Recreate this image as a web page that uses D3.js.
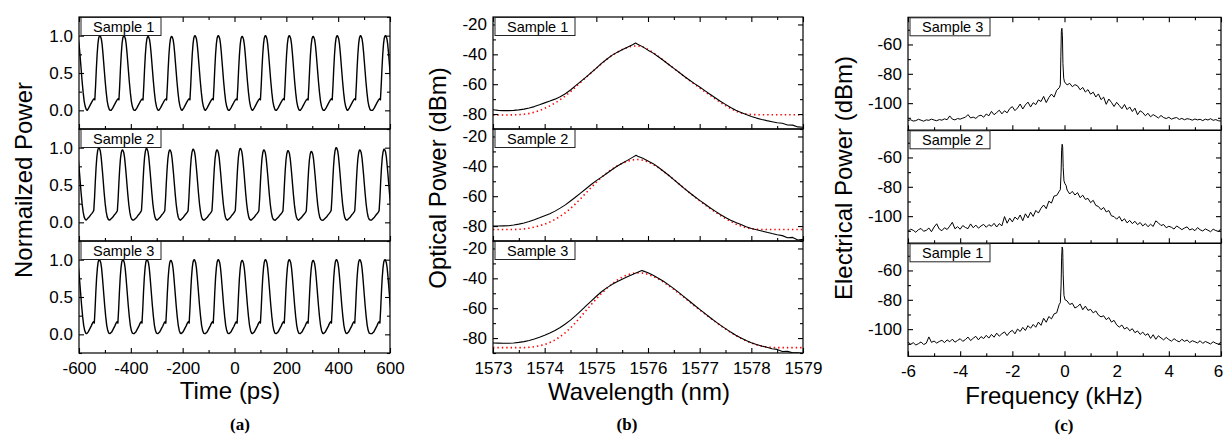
<!DOCTYPE html>
<html>
<head>
<meta charset="utf-8">
<script src="https://cdn.jsdelivr.net/npm/d3@7"></script>
<style>
  body { margin: 0; background: #fff; }
  text { font-family: "Liberation Sans", Arial, sans-serif; }
</style>
</head>
<body>
<svg id="fig" width="1223" height="436"></svg>
<script>
// ---------- (a) pulse trains ----------
// pulse shape: offsets from each peak (ps) and normalized value per sample
const pulseOffsets = [-50, -44, -38, -32, -27, -23, -20, -17, -14, -11, -8, -5, -2, 0, 2, 5, 8, 11, 14, 17, 20, 24, 28, 32, 36, 40];
const pulse1 = [0.0, 0.03, 0.07, 0.11, 0.14, 0.155, 0.14, 0.33, 0.56, 0.75, 0.89, 0.97, 0.998, 1.0, 0.99, 0.96, 0.89, 0.78, 0.65, 0.52, 0.39, 0.24, 0.12, 0.05, 0.01, 0.0];
const pulse2 = [0.03, 0.05, 0.07, 0.10, 0.12, 0.14, 0.16, 0.33, 0.55, 0.74, 0.88, 0.96, 0.997, 1.0, 0.99, 0.96, 0.89, 0.78, 0.66, 0.53, 0.40, 0.25, 0.14, 0.07, 0.04, 0.03];
const pulse3 = [0.01, 0.03, 0.07, 0.11, 0.15, 0.17, 0.15, 0.34, 0.57, 0.76, 0.89, 0.97, 0.998, 1.0, 0.99, 0.96, 0.89, 0.78, 0.65, 0.52, 0.39, 0.24, 0.12, 0.05, 0.015, 0.01];

// peak times (ps) and heights
const peaks1 = [-608, -519, -426, -333, -242, -152, -62, 30, 120, 212, 304, 397, 487, 583];
const heights1 = [1.0, 1.0, 1.0, 0.99, 0.99, 1.0, 1.0, 0.99, 1.0, 1.0, 0.99, 1.0, 1.0, 1.0];
const peaks2 = [-612, -523, -432, -339, -249, -159, -67, 23, 114, 207, 297, 393, 484, 578];
const heights2 = [1.0, 1.0, 0.97, 0.99, 0.97, 0.98, 0.97, 0.99, 0.97, 0.96, 0.95, 1.0, 0.97, 0.98];
const peaks3 = [-610, -521, -430, -337, -245, -155, -62, 30, 120, 212, 304, 394, 484, 581];
const heights3 = [1.0, 1.0, 1.0, 1.0, 0.99, 1.0, 1.0, 0.99, 1.0, 1.0, 0.99, 1.0, 1.0, 1.0];

// ---------- (b) optical spectra ----------
const wlGrid = d3.range(61).map(i => 1573 + i / 10);
const optBlack1 = [-77.1, -77.5, -77.7, -77.7, -77.5, -77.2, -76.7, -75.9, -75.0, -73.8,
  -72.5, -71.3, -70.0, -68.4, -66.4, -63.9, -61.0, -58.1, -55.3, -52.2,
  -49.2, -46.1, -43.3, -40.7, -38.7, -37.0, -35.2, -33.6, -33.2, -35.0,
  -37.2, -39.2, -41.6, -44.1, -46.8, -49.4, -52.0, -54.7, -57.2, -59.6,
  -61.9, -64.3, -66.7, -69.1, -71.4, -73.5, -75.6, -77.5, -78.9, -80.3,
  -81.6, -82.7, -83.6, -84.4, -85.1, -85.8, -86.2, -87.3, -87.4, -88.6,
  -88.8];
const optFit1 = [-80.6, -80.6, -80.6, -80.6, -80.5, -80.4, -80.1, -79.6, -78.8, -77.7,
  -76.2, -74.5, -72.6, -70.4, -67.9, -65.0, -61.8, -58.6, -55.5, -52.4,
  -49.3, -46.3, -43.4, -40.8, -38.6, -36.8, -35.4, -34.5, -34.3, -35.1,
  -36.7, -38.8, -41.3, -44.0, -46.7, -49.4, -52.1, -54.8, -57.4, -60.0,
  -62.5, -65.0, -67.4, -69.8, -72.1, -74.3, -76.3, -78.0, -79.3, -80.0,
  -80.3, -80.4, -80.5, -80.5, -80.5, -80.5, -80.5, -80.5, -80.5, -80.5,
  -80.5];
const optBlack2 = [-80.0, -80.0, -79.9, -79.8, -79.3, -78.7, -78.0, -77.0, -75.8, -74.5,
  -73.1, -71.8, -70.0, -68.0, -65.8, -63.2, -60.5, -57.8, -55.0, -52.2,
  -49.6, -47.2, -44.8, -42.3, -40.0, -37.9, -36.0, -34.0, -33.2, -34.6,
  -36.4, -38.2, -40.6, -43.3, -46.0, -48.9, -51.8, -54.8, -57.5, -60.2,
  -62.8, -65.2, -67.7, -70.0, -72.3, -74.3, -76.1, -77.6, -79.0, -80.4,
  -81.6, -82.5, -83.3, -84.1, -85.0, -85.8, -86.4, -87.8, -87.6, -89.3,
  -88.9];
const optFit2 = [-82.3, -82.3, -82.3, -82.3, -82.3, -82.2, -81.9, -81.4, -80.7, -79.8,
  -78.7, -77.3, -75.6, -73.5, -71.1, -68.3, -65.0, -61.5, -57.8, -54.2,
  -50.6, -47.4, -44.5, -42.0, -39.8, -38.0, -36.6, -35.7, -35.4, -35.9,
  -37.0, -38.7, -40.9, -43.4, -46.1, -48.9, -51.8, -54.7, -57.6, -60.4,
  -63.1, -65.7, -68.2, -70.6, -72.9, -75.0, -76.9, -78.6, -80.0, -81.1,
  -81.8, -82.1, -82.3, -82.3, -82.3, -82.3, -82.3, -82.3, -82.3, -82.3,
  -82.3];
const optBlack3 = [-83.3, -83.4, -83.5, -83.5, -83.3, -82.9, -82.4, -81.6, -80.6, -79.4,
  -78.1, -76.6, -74.9, -72.9, -70.6, -68.0, -65.0, -61.8, -58.5, -55.2,
  -52.0, -49.0, -46.4, -44.2, -42.3, -40.6, -39.0, -37.4, -36.0, -35.0,
  -36.3, -38.0, -39.9, -42.0, -44.4, -46.9, -49.6, -52.4, -55.2, -58.0,
  -60.8, -63.5, -66.2, -68.8, -71.3, -73.7, -76.0, -78.1, -80.0, -81.7,
  -83.1, -84.3, -85.3, -86.2, -87.2, -87.6, -89.0, -88.9, -89.9, -89.8,
  -90.4];
const optFit3 = [-86.4, -86.4, -86.4, -86.4, -86.4, -86.4, -86.4, -86.2, -85.8, -85.2,
  -84.3, -83.0, -81.3, -79.1, -76.4, -73.2, -69.6, -65.6, -61.6, -57.6,
  -53.7, -50.1, -46.8, -43.8, -41.3, -39.2, -37.7, -36.7, -36.3, -36.5,
  -37.3, -38.6, -40.4, -42.5, -44.9, -47.4, -50.1, -52.8, -55.6, -58.4,
  -61.1, -63.8, -66.4, -69.0, -71.5, -73.9, -76.2, -78.3, -80.2, -81.9,
  -83.3, -84.5, -85.4, -86.0, -86.3, -86.4, -86.4, -86.4, -86.4, -86.4,
  -86.4];
// measured peak tops that fall between grid points
const optPeakWl = [1575.76, 1575.77, 1575.88];
const optPeakVal = [-32.4, -32.6, -34.8];

// ---------- (c) RF spectra ----------
const freqGrid = d3.range(121).map(i => (i - 60) / 10);
const rf1 = [-108.6, -110.4, -109.2, -110.8, -109.9, -108.7, -110.5, -109.6, -105.3, -109.0,
  -108.1, -109.5, -108.4, -107.6, -109.2, -107.3, -108.6, -106.8, -108.9, -107.7,
  -106.5, -108.3, -107.1, -105.4, -107.8, -106.2, -104.9, -107.3, -105.1, -106.4,
  -104.2, -106.1, -103.6, -105.5, -102.7, -104.8, -103.1, -101.9, -104.4, -102.0,
  -100.8, -103.2, -99.9, -101.6, -98.8, -100.9, -97.6, -99.4, -96.8, -98.7,
  -95.2, -97.4, -92.6, -95.3, -91.4, -93.0, -89.6, -88.9, -86.9, -83.0,
  -80.5, -80.0, -83.2, -82.4, -85.6, -84.6, -82.9, -86.8, -84.3, -87.2,
  -86.5, -88.9, -87.6, -90.4, -91.6, -90.9, -93.5, -92.1, -95.2, -94.0,
  -97.1, -98.6, -97.2, -99.9, -98.8, -101.1, -99.7, -102.4, -101.2, -103.6,
  -102.0, -104.2, -103.1, -106.3, -103.8, -106.9, -104.5, -106.0, -107.3, -105.6,
  -107.1, -108.2, -106.5, -107.8, -108.7, -106.9, -108.3, -107.4, -109.1, -107.9,
  -108.6, -109.4, -107.9, -109.7, -108.4, -109.2, -110.1, -108.6, -109.6, -110.2,
  -108.9];
const rf2 = [-110.4, -108.9, -109.6, -111.0, -109.2, -108.4, -110.3, -109.7, -108.1, -110.6,
  -107.4, -105.2, -108.8, -109.9, -107.9, -109.1, -106.8, -104.2, -108.6, -107.2,
  -108.9, -106.4, -107.7, -108.5, -105.3, -107.9, -106.1, -108.2, -106.7, -105.6,
  -107.6, -105.8, -106.9, -104.9, -107.4, -105.1, -106.6, -100.3, -104.8, -101.4,
  -103.9, -100.6, -102.3, -99.2, -103.1, -98.4, -101.2, -97.3, -100.2, -96.1,
  -97.9, -94.6, -92.4, -94.9, -89.8, -91.1, -86.3, -85.9, -83.0, -82.4,
  -78.0, -82.2, -84.9, -83.1, -85.6, -84.0, -87.4, -85.7, -88.6, -87.9,
  -90.8, -89.2, -92.7, -93.4, -95.6, -94.1, -97.1, -96.2, -99.8, -100.3,
  -102.1, -100.2, -103.4, -101.8, -104.6, -102.9, -105.1, -103.5, -105.8, -104.3,
  -106.7, -105.1, -107.2, -105.5, -107.0, -103.2, -104.6, -106.4, -105.7, -107.9,
  -106.9, -107.6, -108.8, -106.7, -107.9, -109.2, -108.1, -107.3, -109.4, -108.6,
  -109.9, -107.8, -109.3, -110.1, -108.7, -109.6, -110.6, -108.9, -109.8, -110.4,
  -108.6];
const rf3 = [-111.8, -111.3, -112.2, -111.9, -111.0, -111.6, -112.3, -111.4, -111.7, -110.9,
  -111.5, -112.0, -111.2, -111.6, -110.7, -111.3, -108.7, -110.9, -111.4, -110.5,
  -110.9, -110.2, -109.6, -107.8, -110.1, -109.5, -110.4, -108.8, -108.2, -109.6,
  -107.4, -108.6, -105.6, -107.9, -106.4, -104.8, -107.3, -105.2, -106.6, -103.7,
  -102.4, -105.1, -103.3, -100.6, -104.0, -101.2, -99.3, -102.6, -99.7, -101.0,
  -97.8, -98.9, -95.4, -99.6, -96.2, -93.8, -95.9, -91.2, -89.6, -88.5,
  -84.5, -87.6, -86.5, -88.8, -87.4, -88.2, -90.9, -89.3, -92.4, -90.8,
  -93.9, -92.5, -95.8, -93.7, -97.6, -95.9, -100.8, -97.2, -99.5, -102.3,
  -99.4, -101.6, -103.8, -100.9, -104.4, -102.6, -105.7, -103.4, -107.9, -105.2,
  -106.4, -108.6, -106.9, -109.3, -107.8, -108.9, -110.1, -108.4, -109.8, -110.5,
  -109.6, -110.9, -110.2, -109.8, -111.1, -110.4, -111.3, -110.6, -110.9, -111.6,
  -110.8, -111.4, -111.0, -111.9, -110.9, -111.5, -110.6, -111.7, -111.2, -112.0,
  -112.2];
// the narrow carrier line, sampled finer
const pkF1 = [-0.2, -0.16, -0.13, -0.11, -0.09, -0.07, -0.05, -0.02, 0.02, 0.06, 0.1];
const pkV1 = [-83, -82, -70, -51, -44, -45.5, -63, -77, -80, -80.3, -80.8];
const pkF2 = [-0.2, -0.16, -0.13, -0.11, -0.09, -0.07, -0.05, -0.02, 0.02, 0.06];
const pkV2 = [-83, -82, -70, -55, -51, -53, -67, -76, -78, -79];
const pkF3 = [-0.2, -0.16, -0.14, -0.12, -0.1, -0.08, -0.06, -0.03, 0.0];
const pkV3 = [-89.5, -87.5, -68, -51, -49, -54, -73, -83, -85.5];

// ---------- build series ----------
function pulseTrain(peaks, heights, shape) {
  const pts = [];
  peaks.forEach((tp, k) => pulseOffsets.forEach((dt, j) => pts.push([tp + dt, shape[j] * heights[k]])));
  return pts.sort((a, b) => a[0] - b[0]);
}
function zipSeries(xs, ys) { return xs.map((v, i) => [v, ys[i]]); }
function withExtra(xs, ys, ex, ey) {
  const pts = zipSeries(xs, ys).filter(d => d[0] < ex[0] - 1e-9 || d[0] > ex[ex.length - 1] + 1e-9);
  return pts.concat(zipSeries(ex, ey)).sort((a, b) => a[0] - b[0]);
}

const svg = d3.select("#fig");
const fmtPlain = d => String(d);

const panels = [
  {
    id: "a", left: 79, right: 390, top: 17, h: 112,
    xDomain: [-600, 600], xMajor: d3.range(-600, 601, 200), xMinor: d3.range(-500, 600, 200),
    yDomain: [-0.25, 1.25], yMajor: [0, 0.5, 1.0], yMinor: [-0.25, 0.25, 0.75, 1.25],
    xFmt: fmtPlain, yFmt: d3.format(".1f"),
    xTitle: "Time (ps)", xTitleX: 230, xTitleY: 399,
    yTitle: "Normailzed Power", yTitleX: 32, yTitleY: 180,
    letter: "(a)", letterX: 240, letterY: 430,
    subplots: [
      { label: "Sample 1", lines: [{ data: pulseTrain(peaks1, heights1, pulse1), color: "#000", width: 1.4 }] },
      { label: "Sample 2", lines: [{ data: pulseTrain(peaks2, heights2, pulse2), color: "#000", width: 1.4 }] },
      { label: "Sample 3", lines: [{ data: pulseTrain(peaks3, heights3, pulse3), color: "#000", width: 1.4 }] }
    ]
  },
  {
    id: "b", left: 493, right: 803, top: 17, h: 112,
    xDomain: [1573, 1579], xMajor: d3.range(1573, 1579.5, 1), xMinor: d3.range(1573.5, 1579, 1),
    yDomain: [-90, -15], yMajor: [-80, -60, -40, -20], yMinor: [-90, -70, -50, -30],
    xFmt: fmtPlain, yFmt: fmtPlain,
    xTitle: "Wavelength (nm)", xTitleX: 639, xTitleY: 400,
    yTitle: "Optical Power (dBm)", yTitleX: 446, yTitleY: 178,
    letter: "(b)", letterX: 627, letterY: 430,
    subplots: [
      { label: "Sample 1", lines: [
        { data: zipSeries(wlGrid, optFit1), color: "#ff0000", width: 1.6, dash: "1.4,3" },
        { data: withExtra(wlGrid, optBlack1, [optPeakWl[0]], [optPeakVal[0]]), color: "#000", width: 1.1 }] },
      { label: "Sample 2", lines: [
        { data: zipSeries(wlGrid, optFit2), color: "#ff0000", width: 1.6, dash: "1.4,3" },
        { data: withExtra(wlGrid, optBlack2, [optPeakWl[1]], [optPeakVal[1]]), color: "#000", width: 1.1 }] },
      { label: "Sample 3", lines: [
        { data: zipSeries(wlGrid, optFit3), color: "#ff0000", width: 1.6, dash: "1.4,3" },
        { data: withExtra(wlGrid, optBlack3, [optPeakWl[2]], [optPeakVal[2]]), color: "#000", width: 1.1 }] }
    ]
  },
  {
    id: "c", left: 908, right: 1221, top: 17.3, h: 113,
    xDomain: [-6, 6], xMajor: d3.range(-6, 6.5, 2), xMinor: d3.range(-5, 6, 2),
    yDomain: [-118.5, -41.5], yMajor: [-100, -80, -60], yMinor: [-110, -90, -70, -50],
    xFmt: fmtPlain, yFmt: fmtPlain, lastLabelShift: -3,
    xTitle: "Frequency (kHz)", xTitleX: 1054, xTitleY: 404,
    yTitle: "Electrical Power (dBm)", yTitleX: 852, yTitleY: 178,
    letter: "(c)", letterX: 1064, letterY: 431,
    subplots: [
      { label: "Sample 3", lines: [{ data: withExtra(freqGrid, rf3, pkF3, pkV3), color: "#000", width: 1.0 }] },
      { label: "Sample 2", lines: [{ data: withExtra(freqGrid, rf2, pkF2, pkV2), color: "#000", width: 1.0 }] },
      { label: "Sample 1", lines: [{ data: withExtra(freqGrid, rf1, pkF1, pkV1), color: "#000", width: 1.0 }] }
    ]
  }
];

function styleAxis(g) {
  g.attr("font-size", 17).attr("font-family", "Liberation Sans, Arial, sans-serif").attr("color", "#000");
  g.select(".domain").remove();
  g.selectAll(".tick line").attr("stroke-width", 1.1);
  return g;
}

function drawPanel(p) {
  const x = d3.scaleLinear().domain(p.xDomain).range([p.left, p.right]);
  p.subplots.forEach((sp, i) => {
    const y0 = p.top + i * p.h;
    const y = d3.scaleLinear().domain(p.yDomain).range([y0 + p.h, y0]);
    const clipId = `clip-${p.id}-${i}`;
    svg.append("clipPath").attr("id", clipId).append("rect")
      .attr("x", p.left).attr("y", y0).attr("width", p.right - p.left).attr("height", p.h);

    const plot = svg.append("g").attr("clip-path", `url(#${clipId})`);
    const line = d3.line().x(d => x(d[0])).y(d => y(d[1]));
    sp.lines.forEach(ln => {
      plot.append("path").datum(ln.data)
        .attr("fill", "none")
        .attr("stroke", ln.color)
        .attr("stroke-width", ln.width)
        .attr("stroke-linejoin", "round")
        .attr("stroke-dasharray", ln.dash || null)
        .attr("d", line);
    });

    // inward ticks: bottom (labels only on the last layer), right, left
    const isLast = i === p.subplots.length - 1;
    const bottomAxis = svg.append("g").attr("transform", `translate(0,${y0 + p.h})`)
      .call(d3.axisBottom(x).tickValues(p.xMajor).tickSize(-5).tickPadding(9)
        .tickFormat(isLast ? p.xFmt : () => ""))
      .call(styleAxis);
    if (isLast && p.lastLabelShift) {
      // keep the last label inside the picture edge
      bottomAxis.selectAll(".tick text").filter(d => d === p.xDomain[1]).attr("dx", p.lastLabelShift);
    }
    svg.append("g").attr("transform", `translate(0,${y0 + p.h})`)
      .call(d3.axisBottom(x).tickValues(p.xMinor).tickSize(-3).tickFormat(() => ""))
      .call(styleAxis);
    if (i === 0) {
      svg.append("g").attr("transform", `translate(0,${y0})`)
        .call(d3.axisTop(x).tickValues(p.xMajor).tickSize(-5).tickFormat(() => ""))
        .call(styleAxis);
      svg.append("g").attr("transform", `translate(0,${y0})`)
        .call(d3.axisTop(x).tickValues(p.xMinor).tickSize(-3).tickFormat(() => ""))
        .call(styleAxis);
    }
    svg.append("g").attr("transform", `translate(${p.left},0)`)
      .call(d3.axisLeft(y).tickValues(p.yMajor).tickSize(-5).tickPadding(6).tickFormat(p.yFmt))
      .call(styleAxis);
    svg.append("g").attr("transform", `translate(${p.left},0)`)
      .call(d3.axisLeft(y).tickValues(p.yMinor).tickSize(-3).tickFormat(() => ""))
      .call(styleAxis);
    svg.append("g").attr("transform", `translate(${p.right},0)`)
      .call(d3.axisRight(y).tickValues(p.yMajor).tickSize(-5).tickFormat(() => ""))
      .call(styleAxis);
    svg.append("g").attr("transform", `translate(${p.right},0)`)
      .call(d3.axisRight(y).tickValues(p.yMinor).tickSize(-3).tickFormat(() => ""))
      .call(styleAxis);

    // layer frame
    svg.append("rect")
      .attr("x", p.left).attr("y", y0)
      .attr("width", p.right - p.left).attr("height", p.h)
      .attr("fill", "none").attr("stroke", "#000").attr("stroke-width", 1.2);

    // sample label box
    svg.append("rect")
      .attr("x", p.left + 2).attr("y", y0 + 0.5)
      .attr("width", 80).attr("height", 18)
      .attr("fill", "#fff").attr("stroke", "#222").attr("stroke-width", 1);
    svg.append("text")
      .attr("x", p.left + 14).attr("y", y0 + 15)
      .attr("font-size", 14.5)
      .text(sp.label);
  });

  svg.append("text")
    .attr("x", p.xTitleX).attr("y", p.xTitleY)
    .attr("text-anchor", "middle").attr("font-size", 24)
    .text(p.xTitle);
  svg.append("text")
    .attr("transform", `translate(${p.yTitleX},${p.yTitleY}) rotate(-90)`)
    .attr("text-anchor", "middle").attr("font-size", 24)
    .text(p.yTitle);
  svg.append("text")
    .attr("x", p.letterX).attr("y", p.letterY)
    .attr("text-anchor", "middle").attr("font-size", 17)
    .attr("font-weight", "bold")
    .style("font-family", "'Liberation Serif', 'Times New Roman', serif")
    .text(p.letter);
}

panels.forEach(drawPanel);
</script>
</body>
</html>
